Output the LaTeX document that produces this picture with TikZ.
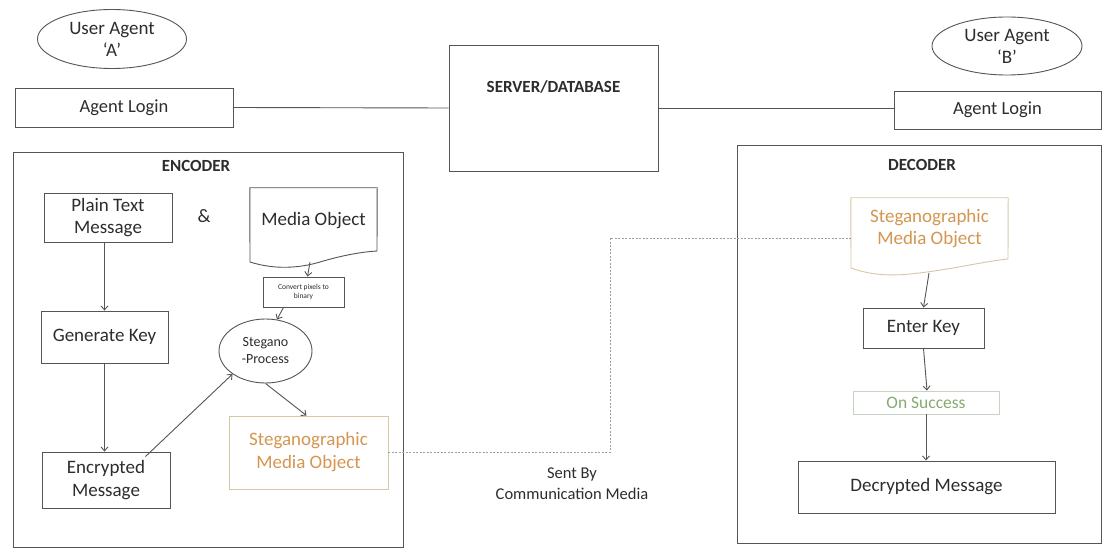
\documentclass[tikz,border=0pt]{standalone}
\usepackage{fontspec}
\setmainfont{Carlito}
\usetikzlibrary{shapes.geometric,arrows.meta,calc}
\definecolor{ln}{RGB}{85,85,85}
\definecolor{tx}{RGB}{45,45,45}
\definecolor{org}{RGB}{212,150,80}
\definecolor{tan}{RGB}{215,200,165}
\definecolor{grn}{RGB}{135,170,115}
\definecolor{grnb}{RGB}{200,212,195}
\definecolor{dots}{RGB}{150,160,170}
\tikzset{
  lnw/.style={draw=ln,line width=0.9pt},
  boxx/.style={lnw,rectangle,inner sep=0pt,align=center,text=tx,font=\fontsize{18.5}{22}\selectfont},
  ell/.style={lnw,ellipse,inner sep=0pt,align=center,text=tx,font=\fontsize{19}{22}\selectfont},
  txt/.style={inner sep=0pt,align=center,text=tx,font=\fontsize{18}{21}\selectfont},
  hdr/.style={inner sep=0pt,text=tx,font=\fontsize{17}{20}\selectfont\bfseries},
  arr/.style={lnw,-{Straight Barb[length=4pt,width=7pt]}},
  dotline/.style={draw=dots,line width=0.9pt,dash pattern=on 2pt off 1.5pt}
}
\begin{document}
\begin{tikzpicture}[x=1pt,y=-1pt]
\useasboundingbox[fill=white] (0,0) rectangle (1103,548);
% top row
\node[ell,minimum width=149,minimum height=59] (uaA) at (112,39) {User Agent\\`A'};
\node[ell,minimum width=150,minimum height=58] (uaB) at (1007,46) {User Agent\\`B'};
\node[boxx,minimum width=218,minimum height=39] (loginA) at (124,107.5) {Agent Login};
\node[boxx,minimum width=209,minimum height=126] (server) at (553.5,108) {};
\node[hdr] (servertxt) at (553.5,87) {SERVER/DATABASE};
\node[boxx,minimum width=207,minimum height=38] (loginB) at (997.5,110) {Agent Login};
\draw[lnw] (loginA.east) -- (server.west);
\draw[lnw] (server.east) -- (server.east -| loginB.west);
% encoder
\node[boxx,minimum width=390,minimum height=395] (encoder) at (208,349.5) {};
\node[hdr] (enclabel) at (196,166) {ENCODER};
\node[boxx,minimum width=128,minimum height=49,font=\fontsize{19}{22}\selectfont] (plain) at (108,217.5) {Plain Text\\Message};
\node[txt,font=\fontsize{19}{22}\selectfont] (amp) at (204,216) {\&};
\node[minimum width=127,minimum height=77,inner sep=0pt] (mdoc) at (313.5,226.5) {};
\draw[lnw] (mdoc.north west) -- (mdoc.north east) -- (377,251)
  .. controls (360,252) and (340,256) .. (320,262)
  .. controls (300,268) and (275,270) .. (250,262) -- cycle;
\node[txt,font=\fontsize{19}{22}\selectfont] (mtext) at (313.5,221) {Media Object};
\coordinate (mdocbot) at (310,262);
\node[boxx,minimum width=81,minimum height=30,font=\fontsize{7.5}{9}\selectfont] (convert) at (303.5,292) {Convert pixels to\\binary};
\node[ell,minimum width=93,minimum height=64,font=\fontsize{14}{17}\selectfont] (stegano) at (265.5,351) {Stegano\\-Process};
\node[boxx,minimum width=127,minimum height=52,font=\fontsize{19}{22}\selectfont] (genkey) at (104.5,337) {Generate Key};
\node[boxx,minimum width=128,minimum height=56,font=\fontsize{19}{23}\selectfont] (encmsg) at (106,480) {Encrypted\\Message};
\node[boxx,draw=tan,minimum width=159,minimum height=73,text=org,font=\fontsize{19}{23}\selectfont] (stegbox) at (308.5,452.5) {Steganographic\\Media Object};
\draw[arr] (plain.south -| genkey) -- (genkey.north);
\draw[arr] (genkey.south) -- (genkey.south |- encmsg.north);
\draw[arr] ($(encmsg.north east)+(-25,5)$) -- (stegano.215);
\draw[arr] (stegano.south) -- ($(stegbox.north)+(-2,0)$);
\draw[arr] (mdocbot) -- ($(convert.north)+(4,0)$);
\draw[arr] ($(convert.south)+(-20,0)$) -- (stegano.70);
% decoder
\node[boxx,minimum width=364,minimum height=398] (decoder) at (919,344) {};
\node[hdr] (declabel) at (922,165) {DECODER};
\node[minimum width=157,minimum height=80,inner sep=0pt] (ddoc) at (929.5,238) {};
\draw[draw=tan,line width=0.9pt] (ddoc.north west) -- (ddoc.north east) -- (1008,259)
  .. controls (980,262) and (950,270) .. (910,274)
  .. controls (890,276) and (870,275) .. (851,268) -- cycle;
\node[txt,text=org,font=\fontsize{19}{22}\selectfont] (dtext) at (929.5,229) {Steganographic\\Media Object};
\coordinate (ddocbot) at (929,273);
\node[boxx,minimum width=121,minimum height=40,font=\fontsize{19}{22}\selectfont] (enterkey) at (923.5,328) {Enter Key};
\node[boxx,draw=grnb,minimum width=146,minimum height=23,text=grn,font=\fontsize{17.5}{20}\selectfont] (onsucc) at (926,402.5) {On Success};
\node[boxx,minimum width=257,minimum height=52,font=\fontsize{19}{22}\selectfont] (decmsg) at (926.5,487) {Decrypted Message};
\draw[arr] (ddocbot) -- (enterkey.north);
\draw[arr] (enterkey.south) -- ($(onsucc.north)+(1,0)$);
\draw[arr] (onsucc.south) -- (onsucc.south |- decmsg.north);
% communication
\coordinate (turn) at (610,452.5);
\draw[dotline] (stegbox.east) -- (turn) |- (ddoc.west);
\node[txt,font=\fontsize{16.5}{21}\selectfont] (sent) at (572,484) {Sent By\\Communication Media};
\end{tikzpicture}
\end{document}
